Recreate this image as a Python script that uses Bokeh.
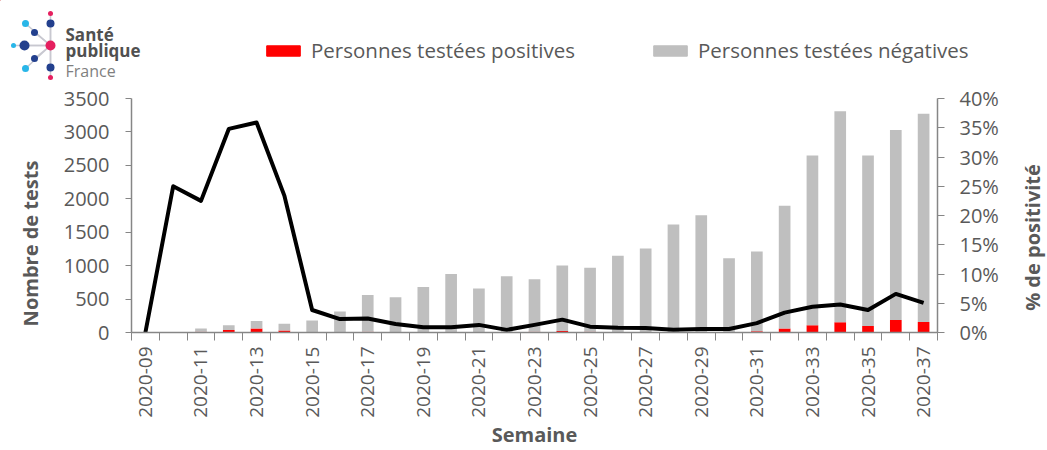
from bokeh.plotting import figure
from bokeh.layouts import column, row
from bokeh.models import (ColumnDataSource, Range1d, LinearAxis, FixedTicker,
                          PrintfTickFormatter, Legend)
from bokeh.core.properties import value
from bokeh.embed import file_html
from bokeh.resources import INLINE
from math import pi

# ---------------- data ----------------
weeks = ["2020-09", "2020-10", "2020-11", "2020-12", "2020-13", "2020-14", "2020-15",
         "2020-16", "2020-17", "2020-18", "2020-19", "2020-20", "2020-21", "2020-22",
         "2020-23", "2020-24", "2020-25", "2020-26", "2020-27", "2020-28", "2020-29",
         "2020-30", "2020-31", "2020-32", "2020-33", "2020-34", "2020-35", "2020-36",
         "2020-37"]
positives = [0, 2, 13, 38, 61, 31, 7, 7, 13, 7, 6, 8, 9, 3, 10, 21, 10, 8, 8, 3, 9,
             4, 19, 59, 108, 152, 98, 186, 157]
negatives = [0, 6, 47, 70, 110, 101, 173, 306, 549, 520, 674, 866, 650, 838, 787, 981,
             957, 1140, 1247, 1614, 1744, 1105, 1192, 1836, 2538, 3158, 2548, 2841, 3115]
positivity = [0, 25.0, 22.5, 34.8, 35.9, 23.4, 3.85, 2.3, 2.4, 1.45, 0.9, 0.9, 1.3, 0.45,
              1.3, 2.2, 1.0, 0.8, 0.75, 0.45, 0.6, 0.6, 1.6, 3.4, 4.4, 4.8, 3.85, 6.6, 5.07]
left_ticks = [0, 500, 1000, 1500, 2000, 2500, 3000, 3500]
right_ticks = [0, 5, 10, 15, 20, 25, 30, 35, 40]
legend_labels = ["Personnes testées positives", "Personnes testées négatives"]
y_title = "Nombre de tests"
y2_title = "% de positivité"
x_title = "Semaine"

FONT = "Open Sans"
TXT = "#595959"
AX = "#868686"
RED = "#FF0000"
GREY = "#BFBFBF"

TOTAL_W, TOTAL_H = 1047, 450
TOP_H = 82
MAIN_H = TOTAL_H - TOP_H
LEFT_W, RIGHT_W = 48, 32
MAIN_W = TOTAL_W - LEFT_W - RIGHT_W
B_TOP, B_BOTTOM = 16, 113
FRAME_TOP = TOP_H + B_TOP
FRAME_BOTTOM = TOTAL_H - B_BOTTOM


def blank(w, h, xr, yr):
    f = figure(width=w, height=h, x_range=Range1d(*xr), y_range=Range1d(*yr),
               output_backend="svg", toolbar_location=None, min_border=0,
               x_axis_location=None, y_axis_location=None, outline_line_color=None)
    f.grid.visible = False
    f.frame_align = False
    return f


# ---------------- header: logo + legend ----------------
top = blank(TOTAL_W, TOP_H, (0, TOTAL_W), (TOP_H, 0))

cx, cy = 50, 45
sat_x = [50, 50, 25, 34, 13, 24, 34, 25, 50, 50]
sat_y = [13, 23, 23, 32, 45, 45, 58, 68, 67, 77]
sat_s = [5, 8, 7, 7, 5, 10, 7, 7, 8, 5]
sat_c = ["#E5205F", "#23408E", "#29B6E8", "#23408E", "#29B6E8", "#23408E",
         "#23408E", "#29B6E8", "#23408E", "#E5205F"]
top.segment(x0=[cx] * len(sat_x), y0=[cy] * len(sat_y), x1=sat_x, y1=sat_y,
            line_color="#C8C8D0", line_width=1.5)
top.scatter(x=sat_x, y=sat_y, size=sat_s, fill_color=sat_c, line_color=None)
top.scatter(x=[cx], y=[cy], size=10, fill_color="#E5205F", line_color=None)
top.text(x=[65, 65], y=[34, 50], text=["Santé", "publique"], text_font=value(FONT),
         text_font_style="bold", text_font_size="17px", text_color="#505050",
         text_baseline="alphabetic")
top.text(x=[65], y=[70], text=["France"], text_font=value(FONT),
         text_font_size="16px", text_color="#7F7F7F", text_baseline="alphabetic")

# legend swatches (same styles as the bars, kept off-range)
k1 = top.vbar(x=[-500], top=[0], bottom=[-1], width=1, fill_color=RED, line_color=RED)
k2 = top.vbar(x=[-500], top=[0], bottom=[-1], width=1, fill_color=GREY, line_color=GREY)
leg = Legend(items=[(legend_labels[0], [k1]), (legend_labels[1], [k2])],
             orientation="horizontal", location=(262, 18),
             glyph_width=42, glyph_height=13, label_height=27, label_standoff=7,
             spacing=74, padding=0, margin=0, border_line_color=None,
             background_fill_alpha=0, label_text_font=FONT,
             label_text_font_size="20.5px", label_text_color=TXT)
top.add_layout(leg, "center")

# ---------------- side titles ----------------
left = blank(LEFT_W, MAIN_H, (0, LEFT_W), (FRAME_BOTTOM, FRAME_TOP))
left.min_border_top = B_TOP
left.min_border_bottom = B_BOTTOM
left.text(x=[29.5], y=[243], text=[y_title], angle=pi / 2, text_align="center",
          text_baseline="middle", text_font=value(FONT), text_font_style="bold",
          text_font_size="20px", text_color=TXT)
right = blank(RIGHT_W, MAIN_H, (TOTAL_W - RIGHT_W, TOTAL_W), (FRAME_BOTTOM, FRAME_TOP))
right.min_border_top = B_TOP
right.min_border_bottom = B_BOTTOM
right.text(x=[1032], y=[237], text=[y2_title], angle=pi / 2, text_align="center",
           text_baseline="middle", text_font=value(FONT), text_font_style="bold",
           text_font_size="20px", text_color=TXT)

# ---------------- main chart ----------------
x = list(range(len(weeks)))
src = ColumnDataSource(dict(x=x, pos=positives, neg=negatives, pct=positivity))

p = figure(width=MAIN_W, height=MAIN_H, x_range=Range1d(-0.5, len(weeks) - 0.5),
           y_range=Range1d(0, 3500), output_backend="svg", toolbar_location=None,
           min_border_left=131 - LEFT_W, min_border_right=(TOTAL_W - RIGHT_W) - 937,
           min_border_top=B_TOP, min_border_bottom=B_BOTTOM, outline_line_color=None)
p.frame_align = False
p.grid.visible = False
p.extra_y_ranges = {"pct": Range1d(0, 40)}

p.vbar_stack(["pos", "neg"], x="x", width=0.42, color=[RED, GREY], source=src,
             line_width=0)
p.line("x", "pct", source=src, y_range_name="pct", line_color="black", line_width=4,
       line_join="round")

# x axis
xa = p.xaxis[0]
xa.ticker = FixedTicker(ticks=x[::2], minor_ticks=[i - 0.5 for i in range(len(weeks) + 1)])
xa.major_label_overrides = {i: weeks[i] for i in x[::2]}
xa.major_label_orientation = pi / 2
xa.major_tick_out = 0
xa.major_tick_in = 0
xa.minor_tick_out = 8
xa.minor_tick_in = 0
xa.minor_tick_line_color = AX
xa.axis_line_color = AX
xa.axis_line_width = 1.5
xa.major_label_standoff = 6
xa.major_label_text_font = FONT
xa.major_label_text_font_size = "19px"
xa.major_label_text_color = TXT
xa.axis_label = x_title
xa.axis_label_standoff = 0
xa.axis_label_text_font = FONT
xa.axis_label_text_font_style = "bold"
xa.axis_label_text_font_size = "20px"
xa.axis_label_text_line_height = 1.0
xa.axis_label_text_color = TXT

# left axis
ya = p.yaxis[0]
ya.ticker = FixedTicker(ticks=left_ticks)
ya.major_tick_out = 6
ya.major_tick_in = 0
ya.minor_tick_line_color = None
ya.major_tick_line_color = AX
ya.axis_line_color = AX
ya.axis_line_width = 1.5
ya.major_label_standoff = 16
ya.major_label_text_font = FONT
ya.major_label_text_font_size = "20px"
ya.major_label_text_color = TXT

# right axis
ra = LinearAxis(y_range_name="pct", ticker=FixedTicker(ticks=right_ticks),
                formatter=PrintfTickFormatter(format="%d%%"))
ra.major_tick_out = 7
ra.major_tick_in = 0
ra.minor_tick_line_color = None
ra.major_tick_line_color = AX
ra.axis_line_color = AX
ra.axis_line_width = 1.5
ra.major_label_standoff = 15
ra.major_label_text_font = FONT
ra.major_label_text_font_size = "20px"
ra.major_label_text_color = TXT
p.add_layout(ra, "right")

layout = column(top, row(left, p, right, spacing=0), spacing=0)
open("out.html", "w").write(file_html(layout, INLINE))
